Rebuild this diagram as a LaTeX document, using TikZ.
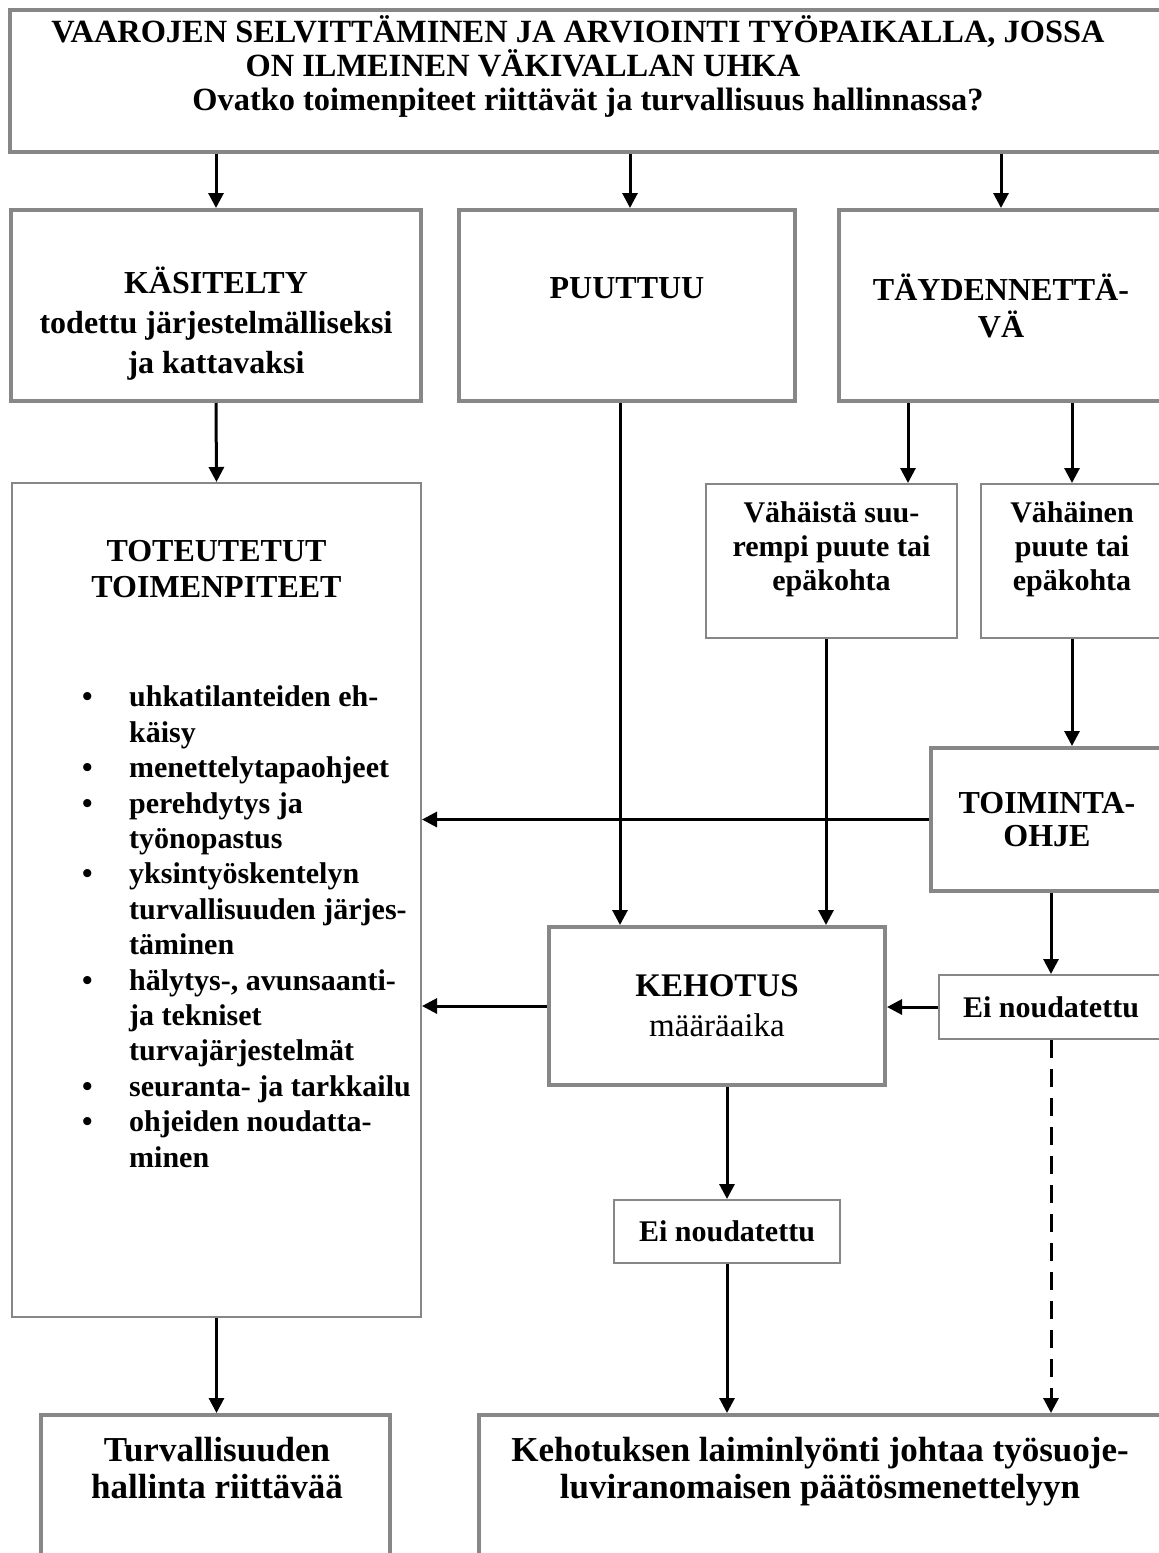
\documentclass[tikz,border=0pt]{standalone}
\usepackage{fontspec}
\setmainfont{Liberation Serif}
\usetikzlibrary{arrows.meta}
\definecolor{boxgray}{RGB}{135,135,135}
\tikzset{
  bx/.style={draw=boxgray,line width=4pt,inner sep=0pt,align=center},
  tbx/.style={draw=boxgray,line width=2pt,inner sep=0pt,align=center},
  lb/.style={inner sep=0pt,align=center},
  ar/.style={line width=3pt,-{Triangle[length=15pt,width=15pt]}},
  dar/.style={ar,dash pattern=on 18pt off 11pt}
}
\newcommand{\setfs}[2]{\fontsize{#1}{#2}\selectfont}

\begin{document}
\begin{tikzpicture}[x=1pt,y=-1pt]
\useasboundingbox (0,0) rectangle (1159,1553);
\clip (0,0) rectangle (1159,1553);
\node[bx,minimum width=1153pt,minimum height=142pt] (top) at (586.5,81) {};
\node[lb,font=\setfs{32.4}{34}\bfseries] (toptxt) at (578,66) {VAAROJEN SELVITTÄMINEN JA ARVIOINTI TYÖPAIKALLA, JOSSA\\ON ILMEINEN VÄKIVALLAN UHKA\hspace*{110pt}\mbox{}\\\hspace*{20pt}Ovatko toimenpiteet riittävät ja turvallisuus hallinnassa?};
\node[bx,minimum width=410pt,minimum height=191pt] (kasit) at (216,305.5) {};
\node[lb,font=\setfs{32}{40}\bfseries] (kasittxt) at (216,323.5) {KÄSITELTY\\todettu järjestelmälliseksi\\ja kattavaksi};
\node[bx,minimum width=336pt,minimum height=191pt] (puutt) at (627,305.5) {};
\node[lb,font=\setfs{32}{40}\bfseries] (puutttxt) at (627,288) {PUUTTUU};
\node[bx,minimum width=324pt,minimum height=191pt,font=\setfs{32}{37}\bfseries] (tayd) at (1001,305.5) {TÄYDENNETTÄ-\\VÄ};
\node[tbx,minimum width=409pt,minimum height=834pt] (toteut) at (216.5,900) {};
\node[lb,font=\setfs{32}{36}\bfseries] (toteuttxt) at (216.5,569.5) {TOTEUTETUT\\TOIMENPITEET};
\node[inner sep=0pt,anchor=north west,font=\setfs{30}{35.4}\bfseries] (toteutlist) at (82,682) {\begin{tabular}{@{}p{47pt}@{}l@{}}
\textbullet & uhkatilanteiden eh-\\
 & käisy\\
\textbullet & menettelytapaohjeet\\
\textbullet & perehdytys ja\\
 & työnopastus\\
\textbullet & yksintyöskentelyn\\
 & turvallisuuden järjes-\\
 & täminen\\
\textbullet & hälytys-, avunsaanti-\\
 & ja tekniset\\
 & turvajärjestelmät\\
\textbullet & seuranta- ja tarkkailu\\
\textbullet & ohjeiden noudatta-\\
 & minen
\end{tabular}};
\node[tbx,minimum width=251pt,minimum height=154pt] (vahaista) at (831.5,561) {};
\node[lb,font=\setfs{30}{34}\bfseries] (vahaistatxt) at (831.5,549) {Vähäistä suu-\\rempi puute tai\\epäkohta};
\node[tbx,minimum width=182pt,minimum height=154pt] (vahainen) at (1072,561) {};
\node[lb,font=\setfs{30}{34}\bfseries] (vahainentxt) at (1072,549) {Vähäinen\\puute tai\\epäkohta};
\node[bx,minimum width=232pt,minimum height=143pt,font=\setfs{32}{33}\bfseries] (toim) at (1047,819.5) {TOIMINTA-\\OHJE};
\node[bx,minimum width=336pt,minimum height=158pt,font=\setfs{33}{40}\bfseries] (kehot) at (717,1006) {KEHOTUS\\{\mdseries määräaika}};
\node[tbx,minimum width=224pt,minimum height=64pt,font=\setfs{30}{34}\bfseries] (einoud1) at (1051,1007) {Ei noudatettu};
\node[tbx,minimum width=226pt,minimum height=63pt,font=\setfs{30}{34}\bfseries] (einoud2) at (727,1231.5) {Ei noudatettu};
\node[bx,minimum width=349pt,minimum height=185pt] (turv) at (215.5,1507.5) {};
\node[lb,font=\setfs{35}{37}\bfseries] (turvtxt) at (217,1468) {Turvallisuuden\\hallinta riittävää};
\node[bx,minimum width=684pt,minimum height=185pt] (laimin) at (821,1507.5) {};
\node[lb,font=\setfs{35}{37}\bfseries] (laimintxt) at (820,1472) {Kehotuksen laiminlyönti johtaa työsuoje-\\luviranomaisen päätösmenettelyyn};
\draw[ar] (top.south -| kasit) -- (kasit.north);
\draw[ar] (top.south -| 630,0) -- (puutt.north -| 630,0);
\draw[ar] (top.south -| tayd) -- (tayd.north);
\draw[ar] (kasit.south) -- (toteut.north);
\draw[ar] (puutt.south -| 620,0) -- (kehot.north -| 620,0);
\draw[ar] (tayd.south -| 908,0) -- (vahaista.north -| 908,0);
\draw[ar] (tayd.south -| vahainen) -- (vahainen.north);
\draw[ar] (vahaista.south -| 826,0) -- (kehot.north -| 826,0);
\draw[ar] (vahainen.south) -- (toim.north -| vahainen);
\draw[ar] (toim.west) -- (toim.west -| toteut.east);
\draw[ar] (toim.south -| einoud1) -- (einoud1.north);
\draw[ar] (einoud1.west) -- (einoud1.west -| kehot.east);
\draw[ar] (kehot.west) -- (kehot.west -| toteut.east);
\draw[ar] (kehot.south -| einoud2) -- (einoud2.north);
\draw[ar] (einoud2.south) -- (einoud2.south |- laimin.north);
\draw[dar] (einoud1.south) -- (einoud1.south |- laimin.north);
\draw[ar] (toteut.south) -- (toteut.south |- turv.north);
\end{tikzpicture}
\end{document}
